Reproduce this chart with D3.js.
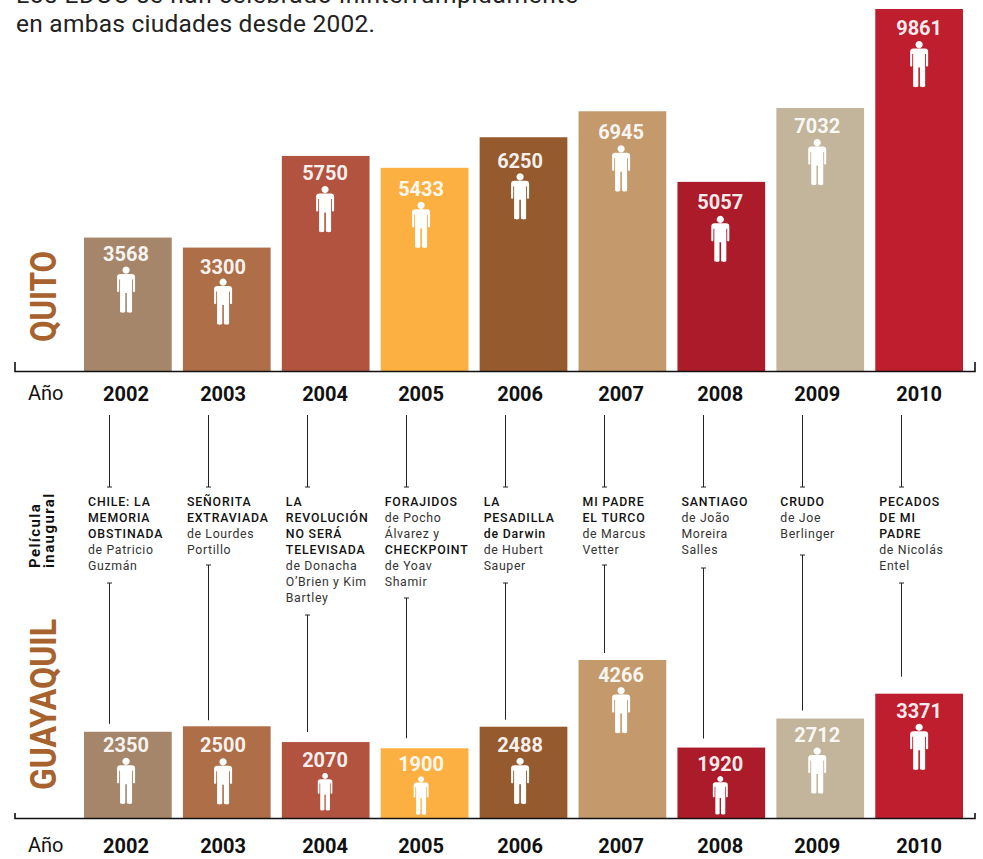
<!DOCTYPE html>
<html><head><meta charset="utf-8">
<script src="https://cdn.jsdelivr.net/npm/d3@7"></script>
<style>html,body{margin:0;background:#fff}svg{display:block}text{font-family:Roboto,sans-serif}</style>
</head><body><div id="c"></div>
<script>
const years=["2002","2003","2004","2005","2006","2007","2008","2009","2010"];
const quito=[3568,3300,5750,5433,6250,6945,5057,7032,9861];
const guayaquil=[2350,2500,2070,1900,2488,4266,1920,2712,3371];
const colors=["#a6866a","#ae6e47","#b25340","#fdb042","#955b2f","#c49a6c","#ab1b29","#c2b59b","#be1e2d"];
const titleLines=["Los EDOC se han celebrado ininterrumpidamente","en ambas ciudades desde 2002."];
const films=[
 [["CHILE: LA",1],["MEMORIA",1],["OBSTINADA",1],["de Patricio",0],["Guzmán",0]],
 [["SEÑORITA",1],["EXTRAVIADA",1],["de Lourdes",0],["Portillo",0]],
 [["LA",1],["REVOLUCIÓN",1],["NO SERÁ",1],["TELEVISADA",1],["de Donacha",0],["O’Brien y Kim",0],["Bartley",0]],
 [["FORAJIDOS",1],["de Pocho",0],["Álvarez y",0],["CHECKPOINT",1],["de Yoav",0],["Shamir",0]],
 [["LA",1],["PESADILLA",1],["de Darwin",1],["de Hubert",0],["Sauper",0]],
 [["MI PADRE",1],["EL TURCO",1],["de Marcus",0],["Vetter",0]],
 [["SANTIAGO",1],["de João",0],["Moreira",0],["Salles",0]],
 [["CRUDO",1],["de Joe",0],["Berlinger",0]],
 [["PECADOS",1],["DE MI",1],["PADRE",1],["de Nicolás",0],["Entel",0]]
];
// layout
const W=983,H=859;
const x=d3.scaleBand().domain(years).range([84,963]).paddingInner(0.113).paddingOuter(0);
const xConn=d3.scalePoint().domain(years).range([109.5,901.5]);
const yQ=d3.scaleLinear().domain([0,7032,9861]).range([371,108,9]);
const yG=d3.scaleLinear().domain([0,2712,4266]).range([818,718.5,660]);
const nudge=[-1.8,-3.7,-0.6,-3.5,-3.4,-1.3,-1,-3,0];
const textPadQ=[23,26,24,28,31,28,27,25,26];
const iconPadQ=[29,31,30,34,36,34,34,31,32];
const textPadG=[20.5,26,25,23,25.5,22,23.5,23.5,24];
const iconPadG=[26,32,31,28,31,27,28.5,29,30];
const iconScaleQ=years.map(()=>1);
const iconScaleG=[1,1,.81,.83,1,1,.83,1,1];
const connStart=[583,565,615,598,583,565,568,555,583];
const connGap=[8,6,10,10,7,7,9,8,17];
const svg=d3.select("#c").append("svg").attr("width",W).attr("height",H);
const ink="#111";
const titleLen=[562,359], titleY=[3,32];
svg.append("g").attr("font-size",24.5).attr("fill","#222").selectAll("text")
 .data(titleLines)
 .join("text").attr("x",16).attr("y",(d,i)=>titleY[i]).attr("textLength",(d,i)=>titleLen[i]).text(d=>d);
const person="M0-23a3.6 3.6 0 1 1-.01 0Z M-5.6-15.5H5.6C8-15.5 9-14.3 9-12.5V1.5C9 3 6.9 3 6.9 1.5V-10H6V22C6 23.6 1.1 23.6 .8 22V3.5H-.8V22C-1.1 23.6-6 23.6-6 22V-10H-6.9V1.5C-6.9 3-9 3-9 1.5V-12.5C-9-14.3-8-15.5-5.6-15.5Z";
function panel(vals,y,base,scales,textPad,iconPad,yearDy,anoY,tick){
 const g=svg.append("g");
 const gs=g.selectAll("g").data(vals).join("g");
 gs.append("rect").attr("x",(d,i)=>x(years[i])).attr("y",d=>y(d)).attr("width",x.bandwidth())
  .attr("height",d=>base-y(d)).attr("fill",(d,i)=>colors[i]);
 gs.append("text").attr("x",(d,i)=>x(years[i])+x.bandwidth()/2+nudge[i]).attr("y",(d,i)=>y(d)+textPad[i])
  .attr("text-anchor","middle").attr("font-size",20).attr("font-weight",700).attr("fill","#fff").attr("fill-opacity",.93).text(d=>d);
 gs.append("path").attr("d",person).attr("fill","#fff")
  .attr("transform",(d,i)=>{const s=scales[i];const h=46*s;
    return `translate(${x(years[i])+x.bandwidth()/2+nudge[i]},${y(d)+iconPad[i]+h/2}) scale(${s})`;});
 const ax=d3.axisBottom(x).tickSize(0).tickPadding(0);
 const a=g.append("g").attr("transform",`translate(0,${base})`).call(ax);
 a.select(".domain").remove();
 a.selectAll("text").attr("y",yearDy).attr("dy",0).attr("font-size",20).attr("font-weight",700).attr("fill",ink)
   .style("font-family","Roboto,sans-serif")
   .attr("x",(d,i)=>nudge[i]);
 g.append("path").attr("d",`M15 ${base-tick}V${base+.5}H975V${base-tick}`).attr("fill","none").attr("stroke",ink).attr("stroke-width",1.6);
 g.append("text").attr("x",28).attr("y",anoY).attr("font-size",20).attr("fill",ink).text("Año");
}
panel(quito,yQ,371,iconScaleQ,textPadQ,iconPadQ,30,400,9);
panel(guayaquil,yG,818,iconScaleG,textPadG,iconPadG,35,852,5);
function vtext(t,cx,bottom,len,color){
 svg.append("text").attr("transform",`translate(${cx},${bottom}) rotate(-90)`).attr("font-size",36).attr("font-weight",700)
  .attr("fill",color).attr("textLength",len).attr("lengthAdjust","spacingAndGlyphs").text(t);
}
vtext("QUITO",56,342,91,"#a7622e");
vtext("GUAYAQUIL",56,790,171,"#a7622e");
const pel=svg.append("g").attr("transform","translate(40,568) rotate(-90)").attr("font-size",15).attr("font-weight",700).attr("fill",ink).attr("letter-spacing",1.4);
pel.append("text").text("Película");
pel.append("text").attr("y",13.5).text("inaugural");
const conn=svg.append("g").attr("stroke","#222").attr("stroke-width",1);
years.forEach((yr,i)=>{
 const X=xConn(yr);
 conn.append("path").attr("fill","none").attr("d",`M${X} 415V487M${X-2.5} 487H${X+2.5}`);
 const s=connStart[i],e=yG(guayaquil[i])-connGap[i];
 conn.append("path").attr("fill","none").attr("d",`M${X-2.5} ${s}H${X+2.5}M${X} ${s}V${e}`);
 const t=svg.append("g").attr("font-size",12.3);
 t.selectAll("text").data(films[i]).join("text").attr("x",x(yr)+4).attr("y",(d,j)=>506+j*16)
  .attr("font-weight",d=>d[1]?500:400).attr("letter-spacing",d=>d[1]?.85:.65).attr("fill",d=>d[1]?ink:"#333").text(d=>d[0]);
});
</script></body></html>
